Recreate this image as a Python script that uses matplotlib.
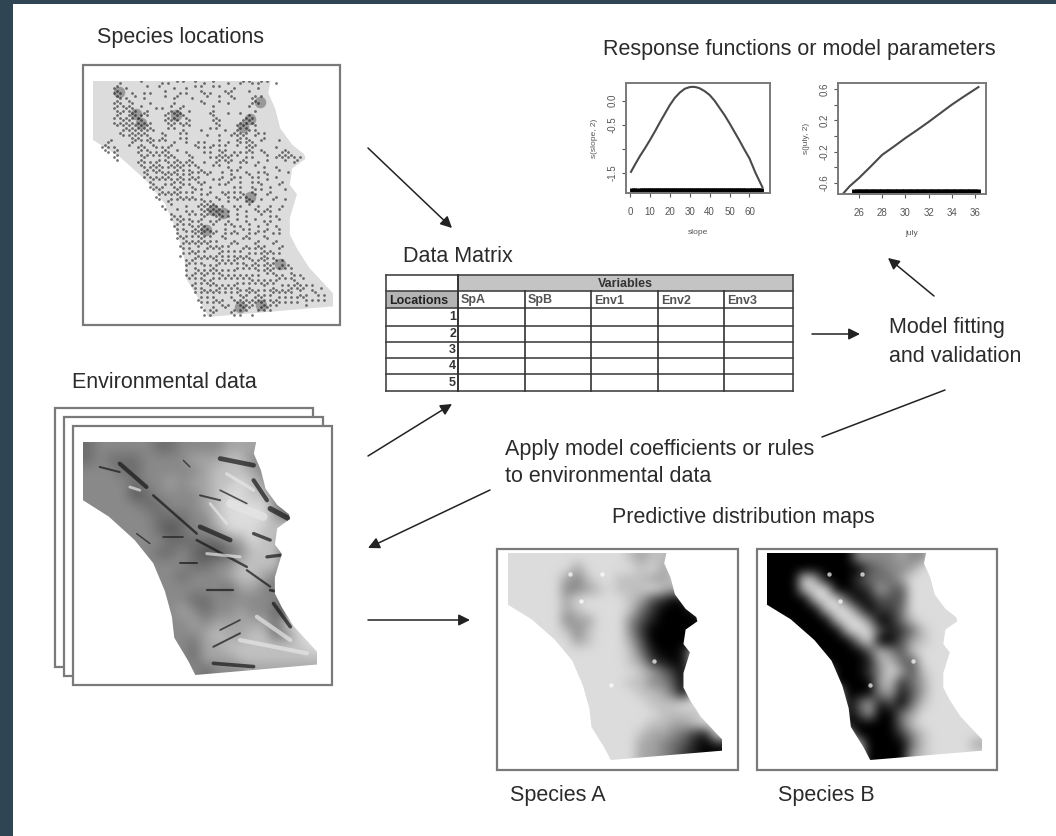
import matplotlib
matplotlib.use("Agg")
import numpy as np
import matplotlib.pyplot as plt
from matplotlib.patches import Polygon, Rectangle

W, H = 1056, 836
plt.rcParams["font.family"] = ["Liberation Sans", "DejaVu Sans"]

TEXT_COLOR = "#2b2b2b"
FRAME_COLOR = "#7a7a7a"

# response curves
SLOPE_X = [0.5, 2.5, 5, 7.5, 10, 12.5, 15, 17.5, 20, 22.5, 25, 27.5, 30, 31.5, 33, 35, 37.5, 40, 42.5, 45, 47.5, 50,
           52.5, 55, 57.5, 60, 63, 66.5]
SLOPE_Y = [-1.48, -1.33, -1.15, -0.99, -0.82, -0.64, -0.45, -0.27, -0.09, 0.06, 0.17, 0.25, 0.285, 0.29, 0.285, 0.26,
           0.2, 0.12, 0.0, -0.15, -0.3, -0.47, -0.65, -0.83, -1.02, -1.2, -1.5, -1.8]
SLOPE_RUG = [1, 2, 3, 5, 6, 7, 8, 9, 10, 11, 12, 13, 14, 15, 16, 17, 18, 19, 20, 21, 22, 23, 24, 25, 26, 27, 28, 29,
             30, 31, 32, 33, 34, 35, 36, 37, 38, 39, 40, 41, 42, 43, 44, 45, 46, 47, 48, 49, 50, 51, 52, 53, 54, 55,
             56, 57, 58, 60, 61, 62, 63, 64, 65, 66]
JULY_X = [24.6, 25.2, 26, 27, 28, 29, 30, 31, 32, 33, 34, 35, 36.3]
JULY_Y = [-0.74, -0.64, -0.536, -0.39, -0.24, -0.135, -0.026, 0.075, 0.18, 0.29, 0.4, 0.5, 0.625]
JULY_RUG = [25.6, 25.8, 26, 26.2, 26.4, 26.6, 26.8, 27, 27.2, 27.4, 27.6, 27.8, 28, 28.2, 28.4, 28.6, 28.8, 29, 29.2,
            29.4, 29.6, 29.8, 30, 30.2, 30.4, 30.6, 30.8, 31, 31.2, 31.4, 31.6, 31.8, 32, 32.2, 32.4, 32.6, 32.8, 33,
            33.2, 33.4, 33.6, 33.8, 34, 34.2, 34.4, 34.6, 34.8, 35, 35.2, 35.4, 35.6, 35.8, 36, 36.3]

TABLE_HEADERS = ["SpA", "SpB", "Env1", "Env2", "Env3"]
TABLE_ROWS = ["1", "2", "3", "4", "5"]

# study area outline, shared by all maps, 0-1 across the map box
OUTLINE = [(0, 0), (.74, 0), (.73, .05), (.76, .12), (.78, .2), (.83, .27), (.88, .31), (.885, .33), (.83, .37),
           (.82, .44), (.85, .48), (.82, .58), (.82, .65), (.85, .71), (.90, .79), (1, .90), (1, .955), (.48, 1),
           (.45, .94), (.39, .84), (.38, .75), (.35, .64), (.30, .52), (.22, .42), (.11, .32), (0, .25)]

# grey levels, 0 black .. 9 white
TERRAIN_GRID = [
    "45555544555566666888", "45444555566677552888", "55544555556777653288", "55554556566778763288",
    "55553455556788775388", "55555445556788885328", "55555544455788886528", "55555543455688877888",
    "55555554444456877388", "55555544543345777388", "55555555544557777488", "55555555455567765388",
    "55555555555546654888", "55555555544555555388", "55555555654556554388", "55555555565666664888",
    "55555555556766774588", "55555555546677777778", "55555555546667777777", "55555555554555666666",
]
SPECIES_A_GRID = [
    "88888888888767767888", "88888868888878678888", "88888657887776678888", "88888556787778767888",
    "88888688888763201888", "88888678888742000188", "88888566888531000018", "88888757888520000008",
    "88888867888630000188", "88888888888741001888", "88888888888762101888", "88888888888876420888",
    "88888888888775530888", "88888888888877640888", "88888888888887778888", "88888888888888777788",
    "88888888888887766788", "88888888888876654218", "88888888888866543101", "88888888888866542100",
]
SPECIES_B_GRID = [
    "00000000555565588888", "00000000034556888888", "00086000244468888888", "00078800126438888888",
    "00007883013338888888", "00000788402248888888", "00000078850147888888", "88000007883124788888",
    "88800000580036788888", "88800000037537888888", "88888000016743888888", "88888800025863788888",
    "88888800006724688888", "88888880005613688888", "88888880361304788888", "88888880260046888888",
    "88888880000047888888", "88888888000025788888", "88888888800004788886", "88888888800006788888",
]

# small bright gaps on the two predicted maps
SPECK_U = [.29, .44, .34, .68, .48]
SPECK_V = [.10, .10, .23, .52, .64]

# spots where the location records pile up
HOTSPOT_U = [.18, .2, .347, .625, .653, .5, .54, .472, .778, .611, .70, .11, .694, .653]
HOTSPOT_V = [.138, .18, .145, .195, .16, .548, .56, .633, .774, .958, .95, .047, .089, .49]

# dark ridges and pale slopes on the terrain map, last value is the stroke width
TERRAIN_DARK = [
    [(.586, .071), (.729, .1), 3.4],
    [(.729, .164), (.786, .25), 3.0],
    [(.8, .286), (.879, .329), 3.8],
    [(.729, .393), (.8, .421), 2.4],
    [(.786, .493), (.843, .486), 2.4],
    [(.8, .636), (.836, .643), 2.0],
    [(.814, .693), (.886, .793), 2.6],
    [(.071, .107), (.157, .129), 1.4],
    [(.157, .093), (.271, .193), 3.0],
    [(.3, .229), (.486, .393), 1.8],
    [(.5, .364), (.629, .421), 3.4],
    [(.486, .421), (.7, .536), 1.8],
    [(.7, .55), (.8, .621), 1.6],
    [(.414, .521), (.486, .521), 1.4],
    [(.529, .636), (.643, .636), 1.6],
    [(.586, .807), (.671, .764), 1.2],
    [(.557, .879), (.671, .821), 1.4],
    [(.557, .95), (.729, .964), 2.6],
    [(.429, .079), (.457, .107), 1.0],
    [(.5, .229), (.586, .25), 1.4],
    [(.586, .207), (.7, .264), 1.2],
    [(.229, .393), (.286, .436), 1.0],
    [(.343, .407), (.429, .407), 1.2],
]
TERRAIN_PALE = [
    [(.614, .136), (.729, .207), 2.4],
    [(.543, .264), (.614, .35), 2.0],
    [(.629, .264), (.771, .321), 6.0],
    [(.529, .479), (.671, .493), 2.2],
    [(.671, .85), (.957, .907), 3.0],
    [(.743, .75), (.886, .85), 3.0],
    [(.243, .207), (.2, .193), 2.0],
]

# location records, each * is one record
SPECIES_ROWS = [
    "         *      *      * *  * *   *  *  *    *   ** ** ** *  *",
    "       **  *      *   *    *   *  * *   * *    *       *",
    "       ***   *   * *    *    * *    ** *    ***     *",
    "        ** *  *  *      *  **    *    *   *   **     ** *",
    "       ***  **     *       *        **    *  *       ***",
    "       ** ****  *    * *  *  **         *           *",
    "        *** ***  **      *****  *      **    *   *    *",
    "       *** ****** *     ** ** **        **         ***",
    "       * ***** *** *    ****** **       ***      *****",
    "        * **********     ***  * *      * **     ****  *",
    "         ** ******* *  *     ***    *       *  *** ** ** *",
    "          * ***** **   **    * *      *   *   * ****  *  *",
    "     **      ** * *** * *  *   *   * *    *  *  ** ***  *     *",
    "   *** *    *  ***  ** * **       ** * ** * *   *  ****      *",
    "    ** **      ** ** * ***  *  *     * *  ***  * * ***  **     ***",
    "       **       *** * * ****    **     * ****** *  * *    *  ******* *",
    "        *      *** * ** ** *** ***   *   ** ***  ***   *  *     *  **",
    "                ** ***** ****** * **    * *  *   *    *  *   *",
    "                 ** **** * ** * ** *** *   *  * *  *   * *    *  *",
    "                 *** * **** *** ** *  *    *  ** *  ** *  *  *",
    "                   ** * * ***** * ** *  * *  **  *   * *  *    *",
    "                   *** ** ** ** **  *  *  * *  * *   *  *  *  *",
    "                    * ** * *** * ** *  *   * * * *   ** *  *    *",
    "                     ** * * ** * *  * *  *  ** * ***  *   *  *",
    "                      *  ** * * * * ** *  *  *  *  ***  *   *   *",
    "                       *  *    *   ******* *   * *  *  *   *   *",
    "                        *   *  * *  ******** *  *  *  ** ***  *",
    "                          ** *  * * *** **** *  *  *    *  * *",
    "                          * *** ** **  * **  *  *  *  *  * *  *",
    "                           ** * ** ***  *   * ** *  *  *  *  *",
    "                            * ** ******* *  *  *  * *  * **   *",
    "                            ** * ***** **  ** * *  ** *  *  * *",
    "                            * ** * *** * *  *  *  * *  *  *  *",
    "                             ** * *** ** * * ** *  *  ** *  *  *",
    "                              * ** * ** * ** * * ** * * ** *  *",
    "                             ** * ** * * *** * * * ** * *** * *",
    "                               * ** * * ** * * ** * ** **** ** *",
    "                               ** * ** * ** * * * ** *** ****  * *",
    "                               *  ** * *** * * ** * * ** **** * * *",
    "                               * ** *** * ** * * * * * *  * ** *  ** *",
    "                                * * ** ** * * * * * ** * * * ** * **  *",
    "                                 ** * **** * * ** * * * *** *  * * *** * *",
    "                                  * ** * ** * * ** *** * * *** * ** ***  *  *",
    "                                  * * * * * * * ** ** ** * ** * * *  * *  ** *",
    "                                   ** * ** *  ** *** ***** * ** * * * ** * * *",
    "                                    * * * ** *  ******* ** **** * * *  *",
    "                                    ** ***  *  * ****  *****",
    "                                     * **     ** *   *",
]

HEADINGS = [
    ("Species locations", 97, 38),
    ("Response functions or model parameters", 603, 49),
    ("Data Matrix", 403, 257),
    ("Environmental data", 72, 383),
    ("Model fitting", 889, 328),
    ("and validation", 889, 356),
    ("Apply model coefficients or rules", 505, 450),
    ("to environmental data", 505, 476),
    ("Predictive distribution maps", 612, 518),
    ("Species A", 510, 796),
    ("Species B", 778, 796),
]


def inset(fig, x0, y0, x1, y1):
    return fig.add_axes([x0 / W, 1 - y1 / H, (x1 - x0) / W, (y1 - y0) / H])


def map_axes(fig, x0, y0, x1, y1):
    ax = inset(fig, x0, y0, x1, y1)
    ax.set_xlim(0, 1)
    ax.set_ylim(1, 0)
    ax.axis("off")
    return ax


def grid_map(fig, box, rows):
    ax = map_axes(fig, *box)
    values = np.array([[int(c) for c in r] for r in rows])
    img = ax.imshow(values, cmap="gray", vmin=0, vmax=9.3, extent=(0, 1, 1, 0),
                    interpolation="bicubic", aspect="auto")
    img.set_clip_path(Polygon(OUTLINE, transform=ax.transData))
    ax.set_xlim(0, 1)
    ax.set_ylim(1, 0)
    return ax


def curve_panel(fig, box, xs, ys, rug, xlim, ylim, xticks, yticks, ylabels, xname, yname):
    ax = inset(fig, *box)
    ax.plot(xs, ys, color="#4a4a4a", lw=1.5)
    ax.plot(rug, [ylim[0]] * len(rug), "|", color="black", ms=7, mew=3.5)
    ax.set_xlim(xlim)
    ax.set_ylim(ylim)
    ax.set_xticks(xticks)
    ax.set_yticks(yticks)
    ax.set_yticklabels(ylabels, rotation=90, va="center")
    ax.tick_params(labelsize=7, length=3, width=0.8, color="#555555", labelcolor="#555555")
    ax.tick_params(axis="x", pad=7)
    ax.tick_params(axis="y", pad=3)
    for s in ax.spines.values():
        s.set_color(FRAME_COLOR)
        s.set_linewidth(1.4)
    ax.set_xlabel(xname, fontsize=6, color="#555555", labelpad=9)
    ax.set_ylabel(yname, fontsize=6, color="#555555", labelpad=7)
    return ax


def arrow(ax, start, end, head=True):
    style = "-|>" if head else "-"
    ax.annotate("", xy=end, xytext=start,
                arrowprops=dict(arrowstyle=style, color="#222222", lw=1.1, shrinkA=0, shrinkB=0, mutation_scale=17))


def draw_table(ax):
    left, right = 386, 793
    cols = [458, 525, 591, 658, 724]
    rows = [275, 291, 308, 326, 342, 358, 374, 391]
    ax.add_patch(Rectangle((cols[0], rows[0]), right - cols[0], rows[1] - rows[0], fc="#c4c4c4", ec="none"))
    ax.add_patch(Rectangle((left, rows[1]), cols[0] - left, rows[2] - rows[1], fc="#b4b4b4", ec="none"))
    for y in rows:
        ax.plot([left, right], [y, y], color="#444444", lw=1.2)
    ax.plot([left, left], [rows[0], rows[-1]], color="#444444", lw=1.2)
    ax.plot([right, right], [rows[0], rows[-1]], color="#444444", lw=1.2)
    ax.plot([cols[0], cols[0]], [rows[0], rows[-1]], color="#333333", lw=1.4)
    for x in cols[1:]:
        ax.plot([x, x], [rows[1], rows[-1]], color="#333333", lw=1.2)
    ax.text(625, rows[0] + 12, "Variables", fontsize=9, fontweight="bold", ha="center", va="baseline", color="#333333")
    ax.text(389, rows[1] + 12.5, "Locations", fontsize=9, fontweight="bold", va="baseline", color="#222222")
    for x, name in zip(cols, TABLE_HEADERS):
        ax.text(x + 3, rows[1] + 12.5, name, fontsize=9, fontweight="bold", va="baseline", color="#555555")
    for i, name in enumerate(TABLE_ROWS):
        ax.text(456, (rows[i + 2] + rows[i + 3]) / 2, name, fontsize=9, fontweight="bold",
                ha="right", va="center", color="#333333")


def main():
    fig = plt.figure(figsize=(W / 100, H / 100), dpi=100, facecolor="white")
    ax = fig.add_axes([0, 0, 1, 1])
    ax.set_xlim(0, W)
    ax.set_ylim(H, 0)
    ax.axis("off")

    ax.add_patch(Rectangle((0, 0), W, 4, fc="#2f4553", ec="none"))
    ax.add_patch(Rectangle((0, 0), 13, H, fc="#2f4553", ec="none"))

    # frames
    for x0, y0, x1, y1 in [(55, 408, 313, 667), (64, 417, 323, 676), (73, 426, 332, 685),
                           (83, 65, 340, 325), (497, 549, 738, 770), (757, 549, 997, 770)]:
        ax.add_patch(Rectangle((x0, y0), x1 - x0, y1 - y0, fc="white", ec=FRAME_COLOR, lw=1.6))

    for label, x, y in HEADINGS:
        ax.text(x, y, label, fontsize=15.5, color=TEXT_COLOR, va="center")

    draw_table(ax)

    arrow(ax, (368, 148), (452, 228))
    arrow(ax, (368, 456), (452, 404))
    arrow(ax, (490, 490), (368, 548))
    arrow(ax, (368, 620), (470, 620))
    arrow(ax, (812, 334), (860, 334))
    arrow(ax, (934, 296), (888, 258))
    arrow(ax, (945, 390), (822, 437), head=False)

    # species locations map
    spec = map_axes(fig, 93, 81, 333, 317)
    spec.add_patch(Polygon(OUTLINE, fc="#dcdcdc", ec="none"))
    px, py = [], []
    for r, row in enumerate(SPECIES_ROWS):
        for c, ch in enumerate(row):
            if ch == "*":
                # odd columns sit half a row lower
                px.append(c / 80)
                py.append((r + 0.5 * (c % 2)) / 48)
    spec.scatter(px, py, s=4, color="#1c1c1c", alpha=0.6, linewidths=0)
    spec.scatter(HOTSPOT_U, HOTSPOT_V, s=70, color="black", alpha=0.3, linewidths=0)

    # terrain map
    terrain = grid_map(fig, (83, 442, 317, 675), TERRAIN_GRID)
    clip = Polygon(OUTLINE, transform=terrain.transData)
    for color, strokes in [("#151515", TERRAIN_DARK), ("#e6e6e6", TERRAIN_PALE)]:
        for a, b, width in strokes:
            line, = terrain.plot([a[0], b[0]], [a[1], b[1]], color=color, lw=width, alpha=0.7,
                                 solid_capstyle="round")
            line.set_clip_path(clip)

    for box, rows in [((508, 553, 722, 760), SPECIES_A_GRID), ((767, 553, 982, 760), SPECIES_B_GRID)]:
        pred = grid_map(fig, box, rows)
        pred.scatter(SPECK_U, SPECK_V, s=10, color="white", alpha=0.7, linewidths=0)

    curve_panel(fig, (626, 83, 770, 193), SLOPE_X, SLOPE_Y, SLOPE_RUG, (-2, 70.3), (-1.92, 0.37),
                [0, 10, 20, 30, 40, 50, 60], [-1.5, -1.0, -0.5, 0.0], ["-1.5", "", "-0.5", "0.0"], "slope", "s(slope, 2)")
    curve_panel(fig, (838, 83, 986, 194), JULY_X, JULY_Y, JULY_RUG, (24.19, 36.95), (-0.74, 0.677),
                [26, 28, 30, 32, 34, 36], [-0.6, -0.4, -0.2, 0, 0.2, 0.4, 0.6],
                ["-0.6", "", "-0.2", "", "0.2", "", "0.6"], "july", "s(july, 2)")

    fig.savefig("out.png", dpi=100)


if __name__ == "__main__":
    main()
